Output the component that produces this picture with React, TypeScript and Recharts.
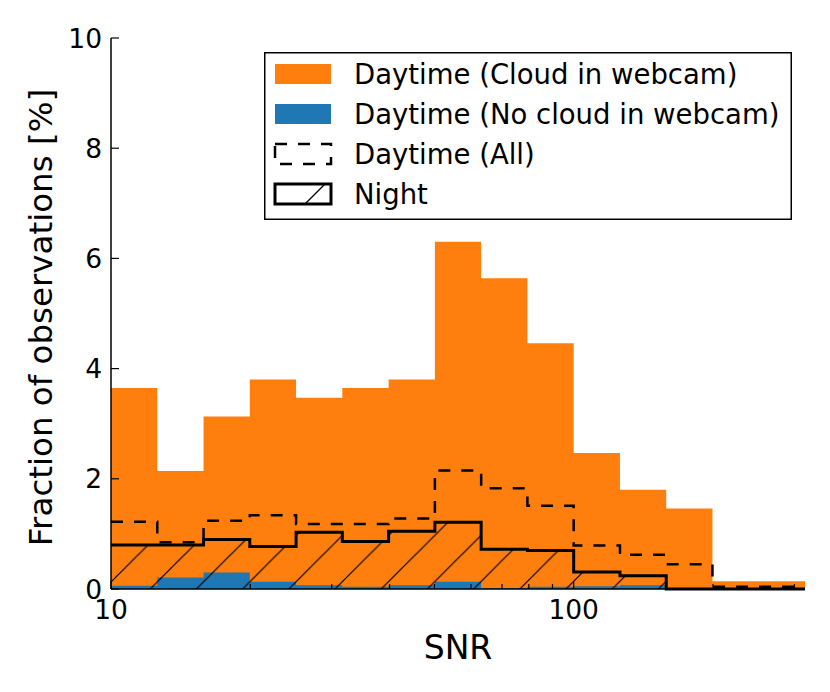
import React from "react";
import { ComposedChart, Area, Line, XAxis, YAxis, Legend } from "recharts";

// bin edges (log spaced, 0.1 dex) and fraction per bin [%]
const binEdges = [10, 12.59, 15.85, 19.95, 25.12, 31.62, 39.81, 50.12, 63.1, 79.43, 100, 125.9, 158.5, 199.5, 251.2, 316.2];
const cloudDay = [3.65, 2.14, 3.13, 3.8, 3.47, 3.65, 3.8, 6.3, 5.64, 4.46, 2.47, 1.8, 1.46, 0.14, 0.14];
const clearDay = [0.06, 0.21, 0.3, 0.13, 0.07, 0.04, 0.07, 0.13, 0.02, 0.04, 0.05, 0.07, 0, 0, 0];
const allDay = [1.22, 0.85, 1.24, 1.34, 1.18, 1.18, 1.28, 2.15, 1.83, 1.51, 0.79, 0.62, 0.45, 0.04, 0.04];
const night = [0.8, 0.8, 0.9, 0.77, 1.03, 0.86, 1.05, 1.21, 0.72, 0.7, 0.31, 0.24, 0, 0, 0];

const xMajorTicks = [10, 100];
const xMinorTicks = [20, 30, 40, 50, 60, 70, 80, 90, 200, 300];
const yTicks = [0, 2, 4, 6, 8, 10];

const legendLabels = [
  "Daytime (Cloud in webcam)",
  "Daytime (No cloud in webcam)",
  "Daytime (All)",
  "Night",
];

const ORANGE = "#ff7f0e";
const BLUE = "#1f77b4";
const FONT = "DejaVu Sans";
const TICK_FONT = 26.5;

// step histograms: last edge repeats last bin value
const data = binEdges.map((edge, i) => {
  const j = Math.min(i, cloudDay.length - 1);
  return { snr: edge, cloud: cloudDay[j], clear: clearDay[j], all: allDay[j], night: night[j] };
});

const xTicks = [...xMajorTicks, ...xMinorTicks].sort((a, b) => a - b);

function BottomTick(props: any) {
  const { x, y, payload } = props;
  const major = xMajorTicks.includes(payload.value);
  return (
    <g>
      <line x1={x} x2={x} y1={y} y2={y - (major ? 8 : 5)} stroke="#000" strokeWidth={1.2} />
      {major && (
        <text x={x} y={y + 30} textAnchor="middle" fontSize={TICK_FONT} fontFamily={FONT} fill="#000">
          {payload.value}
        </text>
      )}
    </g>
  );
}

function TopTick(props: any) {
  const { x, y, payload } = props;
  const major = xMajorTicks.includes(payload.value);
  return <line x1={x} x2={x} y1={y} y2={y + (major ? 8 : 5)} stroke="#000" strokeWidth={1.2} />;
}

function LeftTick(props: any) {
  const { x, y, payload } = props;
  return (
    <g>
      <line x1={x} x2={x + 8} y1={y} y2={y} stroke="#000" strokeWidth={1.2} />
      <text x={x - 9} y={y} textAnchor="end" dominantBaseline="central" fontSize={TICK_FONT} fontFamily={FONT} fill="#000">
        {payload.value}
      </text>
    </g>
  );
}

function RightTick(props: any) {
  const { x, y } = props;
  return <line x1={x} x2={x - 8} y1={y} y2={y} stroke="#000" strokeWidth={1.2} />;
}

function renderLegend() {
  const w = 528;
  const h = 168;
  return (
    <svg width={w} height={h} style={{ display: "block" }}>
      <rect x={0.75} y={0.75} width={w - 1.5} height={h - 1.5} fill="#fff" stroke="#000" strokeWidth={1.5} />
      {legendLabels.map((label, i) => {
        const cy = 22 + 40 * i;
        const sx = 11;
        const sy = cy - 10;
        let swatch;
        if (i === 0) swatch = <rect x={sx} y={sy} width={56} height={20} fill={ORANGE} />;
        else if (i === 1) swatch = <rect x={sx} y={sy} width={56} height={20} fill={BLUE} />;
        else if (i === 2)
          swatch = (
            <rect x={sx} y={sy} width={56} height={20} fill="none" stroke="#000" strokeWidth={2.5} strokeDasharray="12 11" />
          );
        else
          swatch = (
            <g>
              <rect x={sx} y={sy} width={56} height={20} fill="#fff" stroke="#000" strokeWidth={3} />
              <line x1={sx + 30} y1={sy + 20} x2={sx + 50} y2={sy} stroke="#000" strokeWidth={1.2} />
            </g>
          );
        return (
          <g key={label}>
            {swatch}
            <text x={90} y={cy} dominantBaseline="central" fontSize={27.5} fontFamily={FONT} fill="#000">
              {label}
            </text>
          </g>
        );
      })}
    </svg>
  );
}

export default function App() {
  return (
    <div style={{ position: "absolute", left: 0, top: 0, background: "#fff" }}>
      <ComposedChart width={830} height={692} data={data} margin={{ top: 38, right: 25, bottom: 0, left: 0 }}>
        <defs>
          <pattern id="nightHatch" patternUnits="userSpaceOnUse" width={46.2} height={46.2}>
            <line x1={0} y1={46.2} x2={46.2} y2={0} stroke="#000" strokeWidth={1.2} />
            <line x1={-2} y1={2} x2={2} y2={-2} stroke="#000" strokeWidth={1.2} />
            <line x1={44.2} y1={48.2} x2={48.2} y2={44.2} stroke="#000" strokeWidth={1.2} />
          </pattern>
        </defs>
        <Area
          type="stepAfter"
          dataKey="cloud"
          stroke="none"
          fill={ORANGE}
          fillOpacity={1}
          isAnimationActive={false}
          dot={false}
          activeDot={false}
        />
        <Area
          type="stepAfter"
          dataKey="clear"
          stroke="none"
          fill={BLUE}
          fillOpacity={1}
          isAnimationActive={false}
          dot={false}
          activeDot={false}
        />
        <Line
          type="stepAfter"
          dataKey="all"
          stroke="#000"
          strokeWidth={2.5}
          strokeDasharray="12 11"
          dot={false}
          activeDot={false}
          isAnimationActive={false}
        />
        <Area
          type="stepAfter"
          dataKey="night"
          stroke="#000"
          strokeWidth={3}
          fill="url(#nightHatch)"
          fillOpacity={1}
          isAnimationActive={false}
          dot={false}
          activeDot={false}
        />
        <XAxis
          dataKey="snr"
          type="number"
          scale="log"
          domain={[10, 316.2]}
          allowDataOverflow
          ticks={xTicks}
          interval={0}
          height={103}
          tickSize={0}
          tickMargin={0}
          tickLine={false}
          tick={BottomTick}
          axisLine={{ stroke: "#000", strokeWidth: 1.5 }}
          label={(p: any) => {
            const vb = p.viewBox;
            return (
              <text x={vb.x + vb.width / 2} y={vb.y + 70} textAnchor="middle" fontSize={33} fontFamily={FONT} fill="#000">
                SNR
              </text>
            );
          }}
        />
        <XAxis
          xAxisId="top"
          orientation="top"
          dataKey="snr"
          type="number"
          scale="log"
          domain={[10, 316.2]}
          allowDataOverflow
          ticks={xTicks}
          interval={0}
          height={0}
          tickSize={0}
          tickMargin={0}
          tickLine={false}
          tick={TopTick}
          axisLine={{ stroke: "#000", strokeWidth: 1.5 }}
        />
        <YAxis
          type="number"
          domain={[0, 10]}
          ticks={yTicks}
          interval={0}
          width={111}
          tickSize={0}
          tickMargin={0}
          tickLine={false}
          tick={LeftTick}
          axisLine={{ stroke: "#000", strokeWidth: 1.5 }}
          label={(p: any) => {
            const vb = p.viewBox;
            const cx = vb.x + 41;
            const cy = vb.y + vb.height / 2 + 4;
            return (
              <text
                x={cx}
                y={cy}
                transform={`rotate(-90, ${cx}, ${cy})`}
                textAnchor="middle"
                dominantBaseline="central"
                fontSize={32.5}
                fontFamily={FONT}
                fill="#000"
              >
                Fraction of observations [%]
              </text>
            );
          }}
        />
        <YAxis
          yAxisId="right"
          orientation="right"
          type="number"
          domain={[0, 10]}
          ticks={yTicks}
          interval={0}
          width={0}
          tickSize={0}
          tickMargin={0}
          tickLine={false}
          tick={RightTick}
          axisLine={{ stroke: "#000", strokeWidth: 1.5 }}
        />
        <Legend
          layout="horizontal"
          verticalAlign="middle"
          align="center"
          content={renderLegend}
          wrapperStyle={{ left: 264, top: 52, width: 528, height: 168 }}
        />
      </ComposedChart>
    </div>
  );
}
